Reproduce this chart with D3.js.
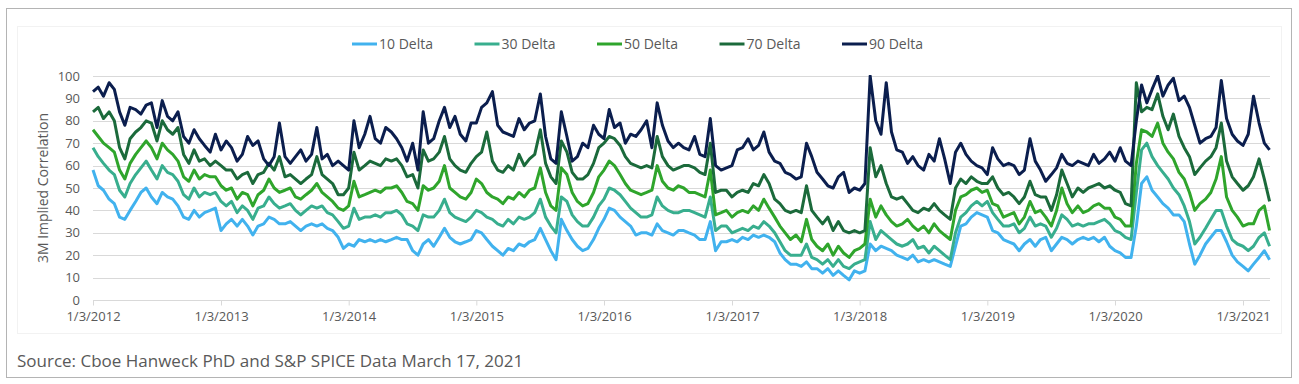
<!DOCTYPE html>
<html>
<head>
<meta charset="utf-8">
<script src="https://cdn.jsdelivr.net/npm/d3@7"></script>
<style>
  body { margin: 0; background: #fff; }
  svg { display: block; font-family: "Open Sans", sans-serif; }
</style>
</head>
<body>
<div id="container"></div>
<script>
/* CONSTANTS AND GLOBALS */
const width = 1299,
  height = 384,
  margin = { top: 76, bottom: 84, left: 93, right: 29 };

// one value roughly every half month, 24 per year, 6 for 2021 (to mid March)
const years = [2012, 2013, 2014, 2015, 2016, 2017, 2018, 2019, 2020, 2021];
const seriesNames = ["10 Delta", "30 Delta", "50 Delta", "70 Delta", "90 Delta"];
const seriesColors = ["#41b2ee", "#38ae8e", "#2fa52c", "#1b6a3b", "#0b1e4e"];
const yTicks = [0, 10, 20, 30, 40, 50, 60, 70, 80, 90, 100];

const d10 = [
  58, 51, 49, 45, 43, 37, 36, 40, 44, 48, 50, 46, 43, 48, 46, 45, 42, 37, 36, 40, 37, 39, 40, 41, // 2012
  31, 34, 36, 33, 36, 33, 29, 33, 34, 37, 36, 34, 34, 35, 33, 31, 33, 34, 33, 34, 32, 31, 28, 23, // 2013
  25, 24, 27, 26, 27, 26, 27, 26, 27, 28, 27, 27, 22, 20, 25, 27, 24, 28, 32, 28, 26, 25, 26, 27, // 2014
  31, 30, 27, 24, 22, 20, 23, 22, 25, 24, 26, 27, 32, 27, 22, 18, 36, 31, 27, 24, 22, 23, 27, 32, // 2015
  36, 41, 40, 37, 35, 33, 29, 30, 30, 29, 34, 31, 30, 29, 31, 31, 30, 29, 27, 27, 35, 22, 26, 26, // 2016
  27, 26, 28, 27, 29, 28, 29, 28, 26, 21, 18, 16, 16, 15, 17, 14, 14, 12, 14, 11, 13, 11, 9, 13,  // 2017
  12, 13, 25, 22, 24, 23, 22, 20, 19, 18, 20, 17, 18, 17, 18, 17, 16, 15, 24, 33, 34, 37, 39, 38, // 2018
  37, 31, 30, 27, 26, 25, 22, 25, 27, 24, 27, 28, 22, 25, 28, 27, 25, 27, 28, 27, 28, 26, 28, 24, // 2019
  22, 21, 19, 19, 33, 52, 55, 49, 46, 43, 41, 38, 38, 35, 25, 16, 20, 25, 28, 31, 31, 26, 20, 17, // 2020
  15, 13, 16, 19, 22, 18 // 2021
];
const d30 = [
  68, 64, 61, 58, 56, 49, 46, 52, 56, 59, 62, 58, 54, 60, 57, 56, 53, 47, 45, 50, 46, 48, 47, 48,
  44, 42, 44, 39, 42, 40, 36, 41, 42, 46, 43, 41, 42, 43, 40, 38, 40, 42, 41, 42, 39, 38, 35, 32,
  33, 41, 36, 37, 37, 38, 37, 39, 39, 40, 38, 34, 33, 31, 38, 37, 37, 40, 45, 39, 37, 36, 35, 37,
  40, 39, 37, 36, 34, 33, 36, 34, 37, 36, 37, 39, 45, 37, 33, 30, 46, 44, 38, 35, 33, 33, 37, 42,
  45, 50, 49, 47, 44, 41, 39, 37, 37, 38, 46, 42, 40, 39, 39, 40, 40, 39, 38, 37, 46, 31, 33, 33,
  30, 31, 32, 31, 33, 32, 35, 33, 30, 26, 22, 20, 20, 20, 25, 19, 18, 16, 18, 15, 18, 15, 14, 16,
  17, 18, 35, 27, 31, 29, 27, 25, 24, 25, 27, 23, 24, 21, 24, 22, 20, 18, 30, 37, 39, 42, 44, 42,
  44, 39, 36, 33, 33, 34, 30, 32, 37, 33, 34, 33, 28, 32, 38, 36, 33, 34, 33, 34, 34, 35, 36, 34,
  31, 30, 28, 27, 48, 67, 70, 64, 60, 57, 54, 50, 47, 42, 35, 25, 28, 32, 36, 40, 40, 33, 27, 25,
  24, 22, 24, 28, 30, 24
];
const d50 = [
  76, 73, 70, 68, 66, 58, 54, 61, 65, 68, 71, 68, 63, 70, 67, 65, 62, 55, 53, 58, 54, 56, 55, 55,
  51, 49, 50, 45, 48, 47, 42, 47, 49, 54, 50, 48, 49, 50, 46, 45, 47, 49, 52, 48, 46, 44, 41, 40,
  42, 53, 46, 47, 48, 49, 48, 50, 50, 51, 48, 44, 43, 40, 51, 49, 50, 53, 60, 50, 48, 46, 45, 48,
  54, 52, 48, 46, 45, 43, 46, 45, 48, 46, 49, 50, 59, 48, 42, 40, 59, 56, 48, 44, 42, 43, 48, 55,
  58, 62, 60, 56, 52, 49, 48, 47, 48, 49, 60, 53, 50, 49, 51, 50, 48, 48, 47, 46, 58, 38, 39, 40,
  37, 39, 40, 39, 42, 40, 45, 41, 37, 33, 30, 27, 29, 26, 36, 27, 24, 22, 25, 20, 24, 21, 19, 22,
  23, 25, 45, 37, 42, 38, 35, 33, 34, 36, 33, 31, 33, 30, 34, 31, 29, 27, 40, 46, 47, 49, 50, 48,
  49, 43, 42, 37, 38, 39, 34, 37, 44, 39, 40, 37, 33, 40, 50, 43, 39, 42, 39, 40, 42, 43, 41, 41,
  37, 36, 33, 33, 61, 76, 75, 73, 79, 70, 66, 63, 57, 54, 48, 40, 43, 45, 48, 54, 64, 46, 40, 37,
  33, 34, 34, 40, 42, 31
];
const d70 = [
  84, 86, 81, 84, 80, 68, 63, 72, 75, 77, 80, 79, 71, 80, 76, 74, 77, 65, 61, 67, 62, 63, 60, 62,
  60, 58, 58, 54, 56, 57, 52, 56, 57, 61, 58, 64, 55, 56, 54, 52, 54, 56, 64, 56, 54, 52, 47, 47,
  50, 66, 58, 60, 62, 61, 60, 63, 62, 63, 60, 55, 56, 50, 67, 62, 63, 66, 73, 63, 60, 58, 57, 61,
  64, 66, 75, 62, 58, 57, 60, 58, 65, 60, 63, 65, 76, 61, 55, 52, 71, 66, 57, 54, 54, 56, 61, 68,
  70, 73, 72, 69, 64, 61, 60, 59, 60, 59, 73, 64, 60, 58, 59, 60, 60, 59, 57, 56, 70, 48, 49, 49,
  46, 48, 49, 48, 52, 51, 56, 52, 45, 43, 40, 39, 40, 39, 51, 40, 37, 34, 37, 31, 35, 31, 30, 31,
  30, 31, 68, 55, 60, 52, 46, 45, 46, 43, 40, 39, 41, 40, 43, 40, 38, 36, 50, 54, 52, 55, 53, 52,
  52, 55, 50, 47, 48, 46, 43, 46, 53, 47, 46, 46, 40, 47, 58, 52, 46, 50, 48, 50, 51, 52, 50, 51,
  49, 48, 43, 42, 97, 84, 86, 85, 92, 82, 76, 83, 73, 68, 64, 56, 59, 62, 64, 68, 79, 62, 55, 52,
  49, 51, 55, 63, 54, 44
];
const d90 = [
  93, 95, 91, 97, 94, 84, 78, 86, 85, 83, 87, 88, 77, 89, 82, 80, 84, 73, 70, 76, 72, 69, 66, 74,
  67, 71, 68, 62, 65, 73, 69, 71, 63, 60, 64, 79, 64, 61, 64, 67, 62, 65, 77, 63, 65, 60, 62, 60,
  58, 80, 68, 74, 82, 72, 70, 77, 75, 72, 68, 62, 70, 58, 84, 70, 72, 80, 86, 77, 82, 74, 71, 79,
  79, 86, 88, 93, 78, 75, 74, 73, 81, 76, 79, 80, 92, 73, 63, 61, 84, 73, 62, 64, 70, 68, 78, 74,
  72, 85, 77, 79, 70, 74, 73, 76, 80, 68, 88, 78, 71, 68, 70, 68, 67, 73, 65, 64, 81, 60, 58, 59,
  60, 67, 68, 72, 67, 69, 75, 66, 62, 61, 57, 56, 54, 55, 70, 64, 57, 54, 51, 50, 55, 57, 48, 50,
  49, 52, 100, 80, 74, 97, 75, 67, 66, 61, 64, 60, 58, 65, 62, 72, 63, 52, 66, 70, 65, 62, 60, 59,
  56, 68, 63, 60, 61, 60, 56, 58, 72, 62, 58, 53, 56, 59, 65, 61, 60, 62, 61, 60, 65, 61, 63, 66,
  62, 68, 62, 60, 80, 96, 88, 94, 100, 91, 96, 99, 89, 91, 86, 78, 70, 72, 73, 77, 98, 81, 74, 71,
  69, 74, 91, 79, 70, 67
];

// dates for every value (half-month steps from Jan 3 of each year)
const dates = [];
years.forEach(y => {
  const n = y === 2021 ? 6 : 24;
  for (let k = 0; k < n; k++) dates.push(new Date(y, 0, 3 + Math.round(k * 365 / 24)));
});

const allSeries = [d10, d30, d50, d70, d90].map((vals, i) => ({
  name: seriesNames[i],
  color: seriesColors[i],
  values: vals.map((v, j) => ({ date: dates[j], value: v }))
}));

/* SVG */
const svg = d3.select("#container")
  .append("svg")
  .attr("width", width)
  .attr("height", height);

// outer frame and faint inner chart border
svg.append("rect")
  .attr("x", 6.5).attr("y", 8.5)
  .attr("width", 1285).attr("height", 369)
  .attr("fill", "none").attr("stroke", "#b4b4b4");
svg.append("rect")
  .attr("x", 17.5).attr("y", 26.5)
  .attr("width", 1264).attr("height", 307)
  .attr("fill", "none").attr("stroke", "#f2f2f2");

/* SCALES */
const xScale = d3.scaleTime()
  .domain([new Date(2012, 0, 3), new Date(2021, 0, 3)])
  .range([margin.left, 1243]);
const xEnd = width - margin.right;

const yScale = d3.scaleLinear()
  .domain([0, 100])
  .range([height - margin.bottom, margin.top]);

/* GRIDLINES */
svg.append("g")
  .selectAll("line")
  .data(yTicks)
  .join("line")
  .attr("x1", margin.left)
  .attr("x2", xEnd)
  .attr("y1", d => Math.round(yScale(d)) + 0.5)
  .attr("y2", d => Math.round(yScale(d)) + 0.5)
  .attr("stroke", "#d9d9d9")
  .attr("stroke-width", 1);

/* AXES */
const formatDate = d3.timeFormat("%-m/%-d/%Y");
const xAxis = d3.axisBottom(xScale)
  .tickValues(years.map(y => new Date(y, 0, 3)))
  .tickFormat(formatDate)
  .tickSize(5)
  .tickPadding(6);

const xAxisGroup = svg.append("g")
  .attr("transform", `translate(0, ${Math.round(yScale(0)) + 0.5})`)
  .call(xAxis);
xAxisGroup.select(".domain").remove();
xAxisGroup.selectAll(".tick line").attr("stroke", "#d9d9d9");
xAxisGroup.selectAll("text")
  .attr("fill", "#595959")
  .style("font-size", "13px")
  .style("font-family", "Open Sans, sans-serif");

const yAxis = d3.axisLeft(yScale)
  .tickValues(yTicks)
  .tickSize(0)
  .tickPadding(13);

const yAxisGroup = svg.append("g")
  .attr("transform", `translate(${margin.left}, 0)`)
  .call(yAxis);
yAxisGroup.select(".domain").remove();
yAxisGroup.selectAll("text")
  .attr("fill", "#595959")
  .style("font-size", "13px")
  .style("font-family", "Open Sans, sans-serif");

svg.append("text")
  .attr("transform", `translate(48, 188) rotate(-90)`)
  .attr("text-anchor", "middle")
  .attr("fill", "#595959")
  .style("font-size", "14px")
  .text("3M Implied Correlation");

/* LINES */
svg.append("clipPath")
  .attr("id", "plotClip")
  .append("rect")
  .attr("x", margin.left - 2)
  .attr("y", margin.top - 1)
  .attr("width", xEnd - margin.left + 4)
  .attr("height", yScale(0) - margin.top + 4);

const lineGen = d3.line()
  .x(d => xScale(d.date))
  .y(d => yScale(d.value));

svg.append("g")
  .attr("clip-path", "url(#plotClip)")
  .selectAll("path")
  .data(allSeries)
  .join("path")
  .attr("fill", "none")
  .attr("stroke", d => d.color)
  .attr("stroke-width", 3)
  .attr("stroke-linejoin", "round")
  .attr("d", d => lineGen(d.values));

/* LEGEND */
const legend = svg.append("g")
  .selectAll("g")
  .data(allSeries)
  .join("g")
  .attr("transform", (d, i) => `translate(${352 + i * 122.5}, 44)`);

legend.append("line")
  .attr("x1", 0).attr("x2", 25)
  .attr("stroke", d => d.color)
  .attr("stroke-width", 3);

legend.append("text")
  .attr("x", 27)
  .attr("dy", "0.35em")
  .attr("fill", "#595959")
  .style("font-size", "14px")
  .text(d => d.name);

/* SOURCE */
svg.append("text")
  .attr("x", 17)
  .attr("y", 367)
  .attr("fill", "#595959")
  .style("font-size", "17px")
  .text("Source: Cboe Hanweck PhD and S&P SPICE Data March 17, 2021");
</script>
</body>
</html>
